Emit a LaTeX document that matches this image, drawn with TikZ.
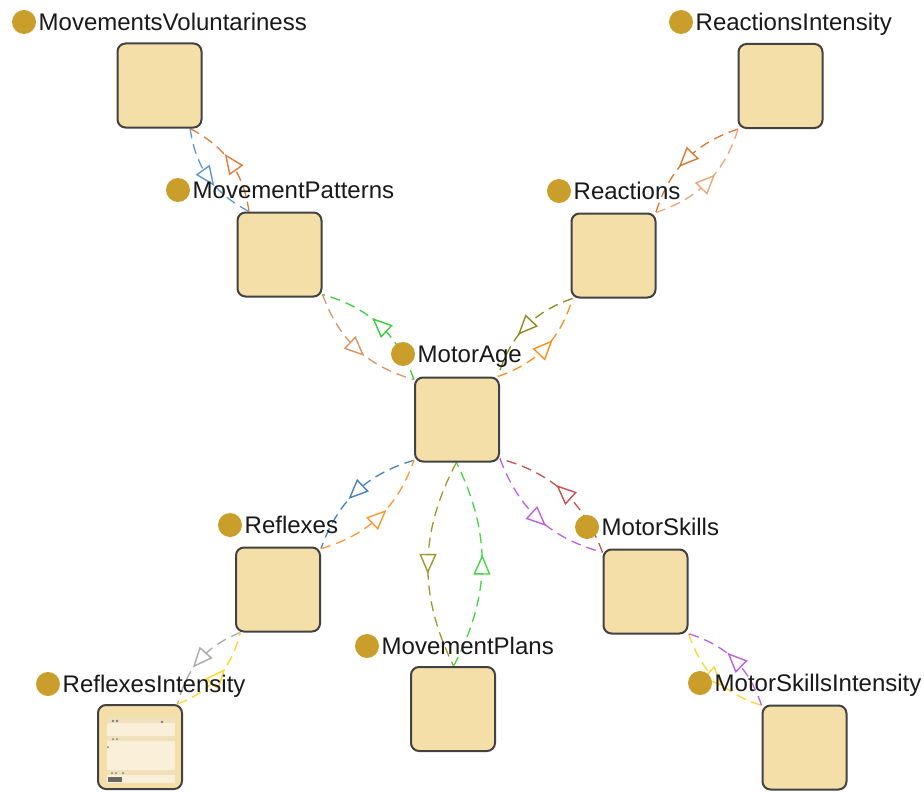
\documentclass[tikz,border=0pt]{standalone}
\usepackage{fontspec}
\setmainfont{Liberation Sans}
\usetikzlibrary{arrows.meta,decorations.markings,calc}
\pgfdeclarelayer{bg}
\pgfsetlayers{bg,main}
\definecolor{boxfill}{RGB}{245,223,168}
\definecolor{boxdraw}{RGB}{66,66,66}
\definecolor{dotcol}{RGB}{201,158,42}
\definecolor{textcol}{RGB}{25,25,25}
\definecolor{panel}{RGB}{250,240,218}
\definecolor{band}{RGB}{240,225,188}
\definecolor{eblue}{RGB}{95,150,210}
\definecolor{eorangeA}{RGB}{225,125,60}
\definecolor{eorangeB}{RGB}{222,118,48}
\definecolor{eorangeC}{RGB}{240,165,120}
\definecolor{egreen}{RGB}{60,205,60}
\definecolor{etan}{RGB}{215,150,100}
\definecolor{eolive}{RGB}{140,140,30}
\definecolor{eorangeD}{RGB}{255,140,30}
\definecolor{eblueB}{RGB}{70,130,195}
\definecolor{eorangeE}{RGB}{255,150,50}
\definecolor{eoliveB}{RGB}{155,155,45}
\definecolor{egreenB}{RGB}{70,215,70}
\definecolor{epurple}{RGB}{190,95,225}
\definecolor{ered}{RGB}{200,80,80}
\definecolor{egray}{RGB}{170,170,170}
\definecolor{eyellow}{RGB}{255,215,40}
\tikzset{
  cls/.style={draw=boxdraw, fill=boxfill, line width=2pt, rounded corners=8pt,
    minimum width=84pt, minimum height=84pt, inner sep=0pt},
  labeldot/.style={circle, fill=dotcol, minimum size=24pt, inner sep=0pt},
  lbl/.style={anchor=base west, inner sep=0pt, font=\fontsize{24}{28}\selectfont, text=textcol},
  rel/.style={dash pattern=on 10pt off 6pt, line width=1.3pt, bend right=27,
    postaction={decorate, decoration={markings,
      mark=at position 0.5 with {\arrow[xshift=10pt]{Triangle[length=20pt,width=17pt,fill=white,line width=1.4pt]}}}}},
}
\newcommand\relpair[4]{%
  \path (#1) -- (#2) coordinate[pos=0] (#1#2s) coordinate[pos=1] (#1#2e);
  \draw[rel,#3] (#1#2s) to (#1#2e);
  \draw[rel,#4] (#1#2e) to (#1#2s);}
\newcommand\clsnode[6]{% name, cx, cy, dotx, doty, text
  \node[cls] (#1) at (#2,#3) {};
  \node[labeldot] (#1dot) at (#4,#5) {};
  \node[lbl] (#1lbl) at ($(#4,#5)+(14.5,8.6)$) {#6};}
\begin{document}
\begin{tikzpicture}[x=1pt,y=-1pt]
\useasboundingbox (0,0) rectangle (924,792);
\begin{pgfonlayer}{bg}
\fill[white] (0,0) rectangle (924,792);
\end{pgfonlayer}
\clsnode{mv}{159.5}{85.5}{24}{22}{MovementsVoluntariness}
\clsnode{ri}{780.5}{86}{681}{22}{ReactionsIntensity}
\clsnode{mp}{279.5}{254.5}{178}{190}{MovementPatterns}
\clsnode{re}{613.5}{255.5}{559}{191}{Reactions}
\clsnode{ma}{457}{419.5}{403}{354}{MotorAge}
\clsnode{rf}{278}{589.5}{230}{525}{Reflexes}
\clsnode{ms}{645.5}{591.5}{587}{527}{MotorSkills}
\clsnode{pl}{453}{709}{367}{646}{MovementPlans}
\clsnode{rfi}{140}{747}{48}{684}{ReflexesIntensity}
\clsnode{msi}{804.5}{747.5}{700}{683}{MotorSkillsIntensity}
% miniature table inside ReflexesIntensity
\fill[panel] (107,717) rectangle (175,783);
\fill[band] (107,717) rectangle (175,723);
\fill[band] (107,736) rectangle (175,741);
\fill[band] (107,770) rectangle (175,775);
\fill[boxdraw!70] (113,721) circle (1.3pt) (117,721) circle (1.3pt) (162,722) circle (1.3pt)
  (113,739) circle (1pt) (117,739) circle (1pt) (108,747) circle (1pt)
  (112,773) circle (1pt) (116,773) circle (1pt) (123,773) circle (1pt);
\fill[boxdraw!80] (108,777) rectangle (122,782);
\begin{pgfonlayer}{bg}
\relpair{mv}{mp}{eblue}{eorangeA}
\relpair{ri}{re}{eorangeB}{eorangeC}
\relpair{ma}{mp}{egreen}{etan}
\relpair{re}{ma}{eolive}{eorangeD}
\relpair{ma}{rf}{eblueB}{eorangeE}
\relpair{ma}{pl}{eoliveB}{egreenB}
\relpair{ma}{ms}{epurple}{ered}
\relpair{rf}{rfi}{egray}{eyellow}
\relpair{ms}{msi}{eyellow}{epurple}
\end{pgfonlayer}
\end{tikzpicture}
\end{document}
